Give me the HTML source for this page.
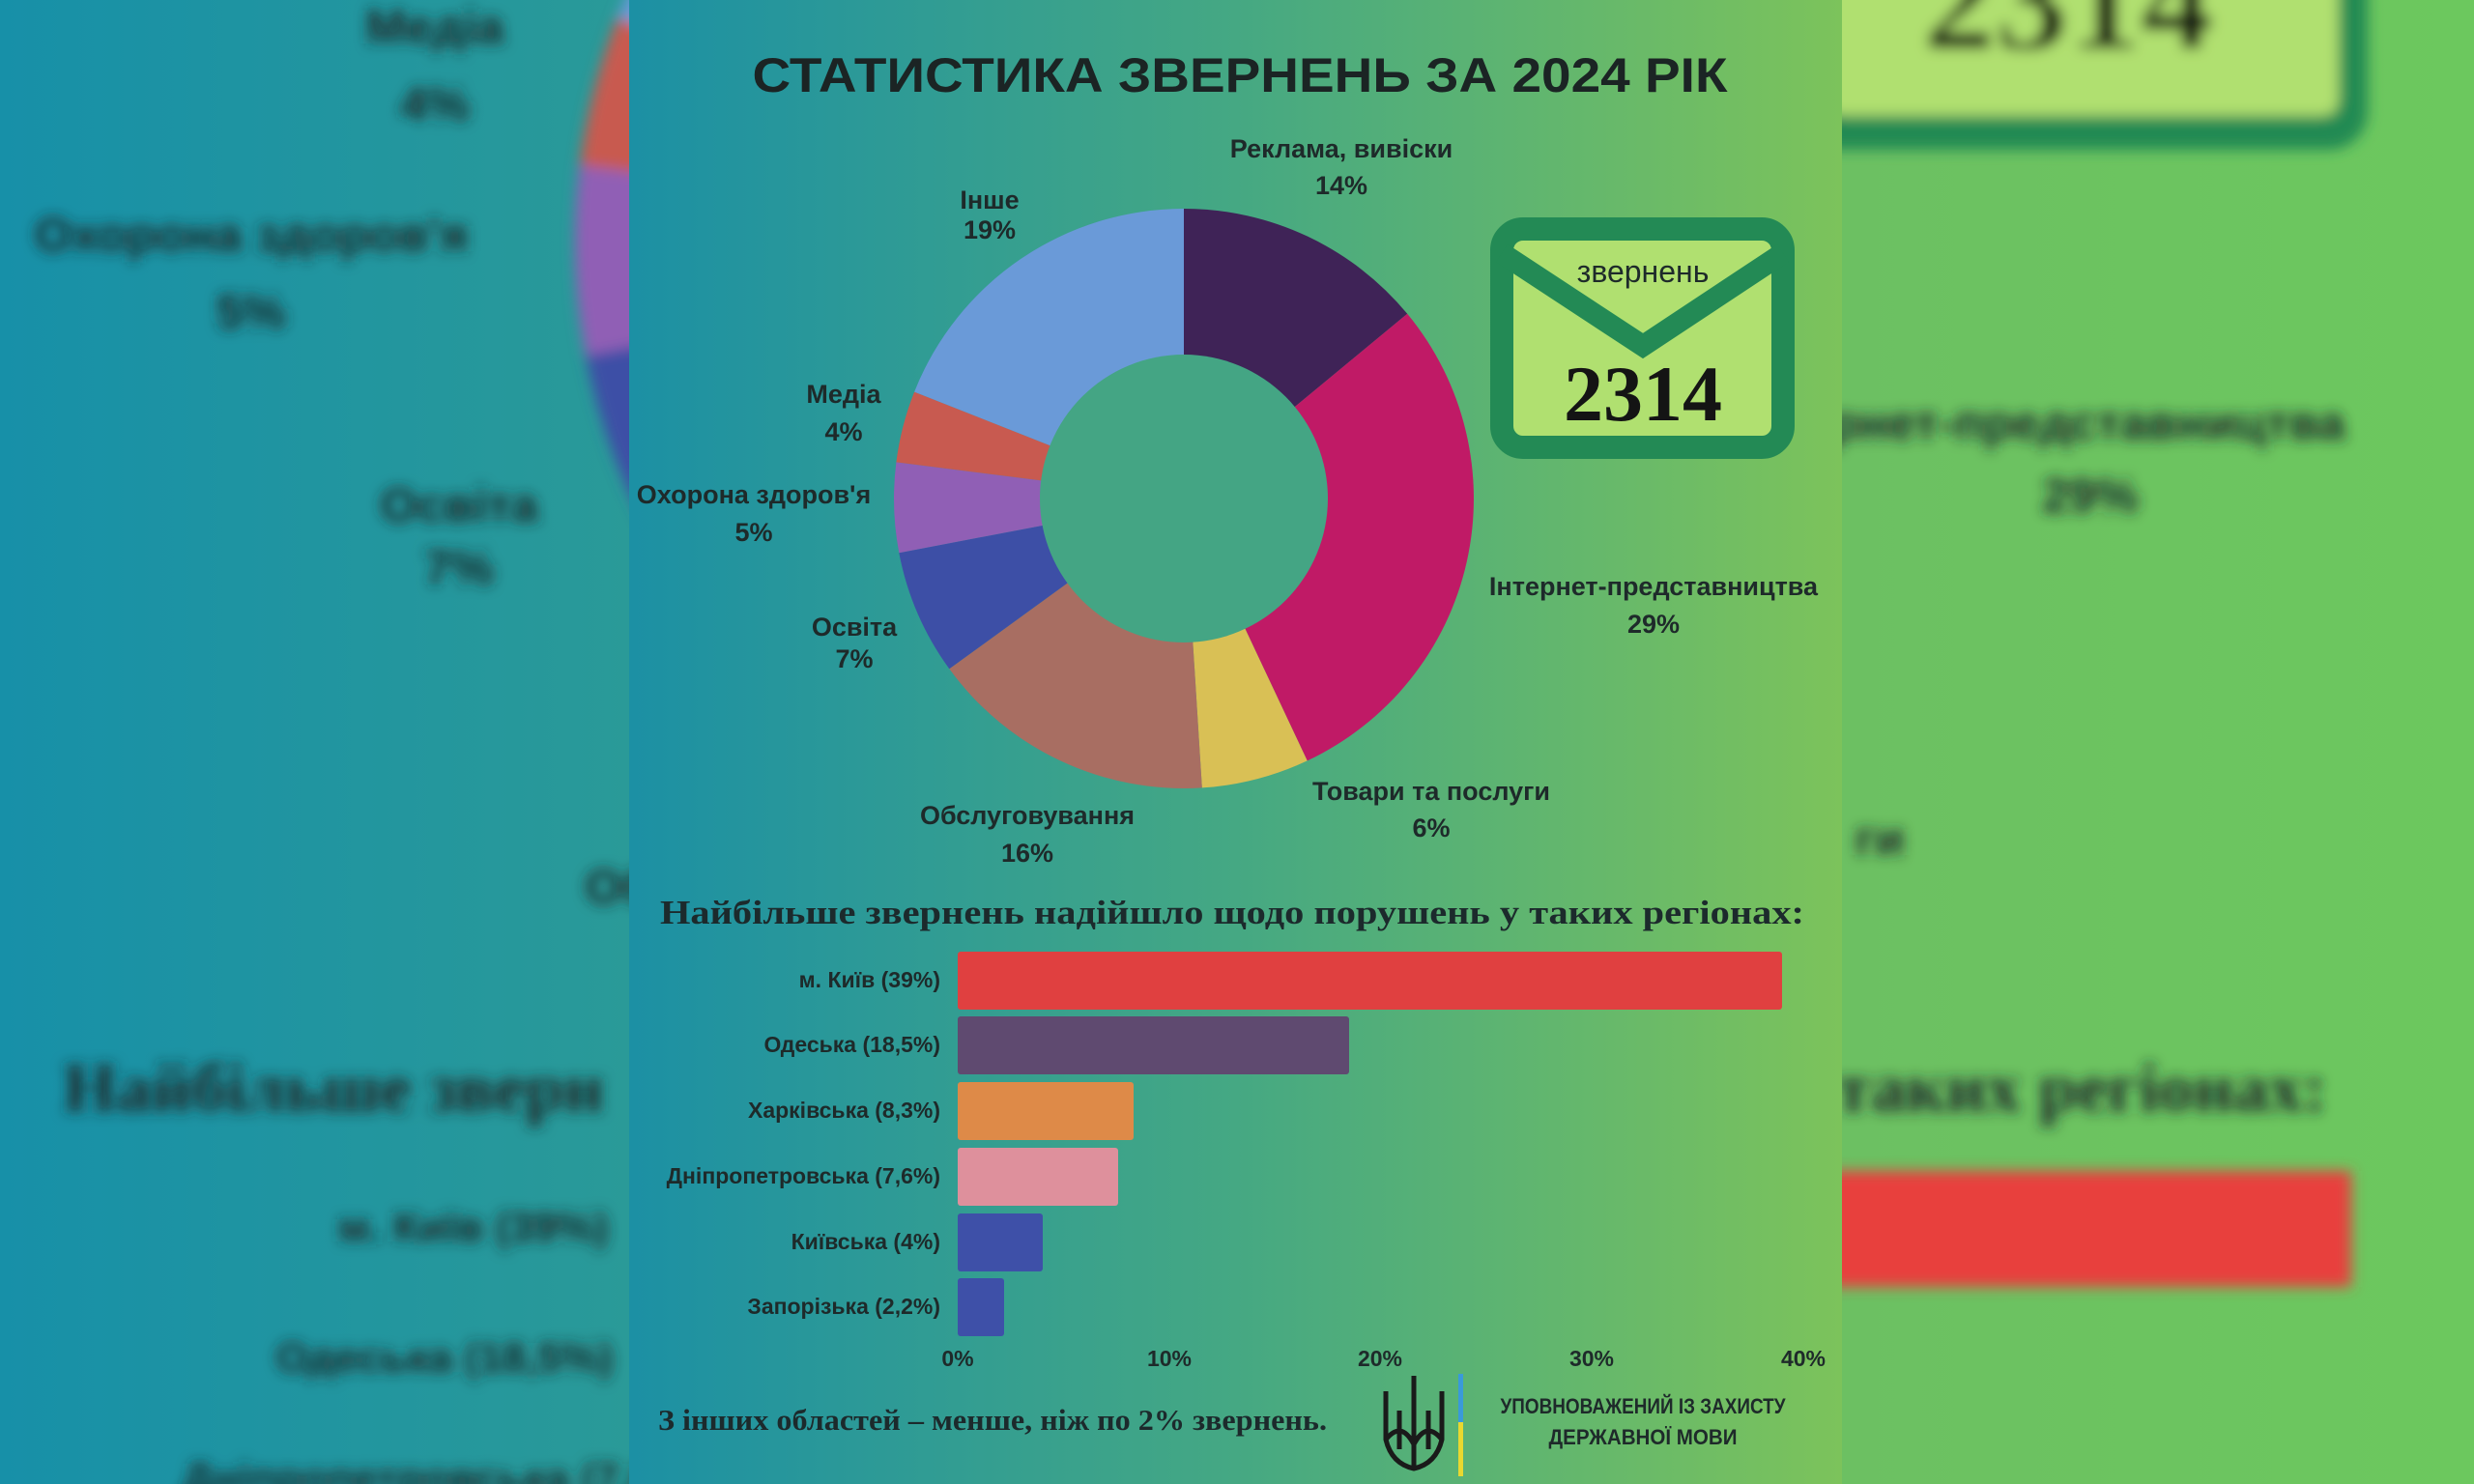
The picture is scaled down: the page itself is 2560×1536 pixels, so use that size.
<!DOCTYPE html>
<html><head><meta charset="utf-8"><style>
html,body{margin:0;padding:0;width:2560px;height:1536px;overflow:hidden;background:#3a9e8a}
svg{display:block}
.s{font-family:"Liberation Sans","DejaVu Sans",sans-serif}
.f{font-family:"Liberation Serif","DejaVu Serif",serif}
</style></head><body>
<svg width="2560" height="1536" viewBox="0 0 2560 1536" xmlns="http://www.w3.org/2000/svg">
<defs>
<linearGradient id="bgL" x1="0" x2="1" y1="0" y2="0"><stop offset="0" stop-color="#1790a8"/><stop offset="1" stop-color="#2a9a98"/></linearGradient>
<linearGradient id="bgR" x1="0" x2="1" y1="0" y2="0"><stop offset="0" stop-color="#6cc062"/><stop offset="1" stop-color="#6cc85e"/></linearGradient>
<linearGradient id="pan" x1="0" x2="1" y1="0" y2="0"><stop offset="0" stop-color="#1c90a4"/><stop offset="0.5" stop-color="#45a883"/><stop offset="1" stop-color="#7cc35b"/></linearGradient>
<filter id="bl" x="-20%" y="-20%" width="140%" height="140%"><feGaussianBlur stdDeviation="7"/></filter>
<g id="donut">
 <path d="M0,0 L0,-300 A300,300 0 0 1 231.2,-191.2 Z" fill="#3f2357"/>
 <path d="M0,0 L231.2,-191.2 A300,300 0 0 1 127.7,271.4 Z" fill="#c01a66"/>
 <path d="M0,0 L127.7,271.4 A300,300 0 0 1 18.8,299.4 Z" fill="#d9c055"/>
 <path d="M0,0 L18.8,299.4 A300,300 0 0 1 -242.7,176.3 Z" fill="#a86e62"/>
 <path d="M0,0 L-242.7,176.3 A300,300 0 0 1 -294.7,56.2 Z" fill="#3d4fa6"/>
 <path d="M0,0 L-294.7,56.2 A300,300 0 0 1 -297.6,-37.6 Z" fill="#905fb5"/>
 <path d="M0,0 L-297.6,-37.6 A300,300 0 0 1 -278.9,-110.4 Z" fill="#c85a50"/>
 <path d="M0,0 L-278.9,-110.4 A300,300 0 0 1 0,-300 Z" fill="#6a9ad8"/>
 <circle r="149" fill="#44a584"/>
</g>
</defs>
<rect x="0" y="0" width="660" height="1536" fill="url(#bgL)"/>
<rect x="1900" y="0" width="660" height="1536" fill="url(#bgR)"/>
<g filter="url(#bl)" class="s">
 <use href="#donut" transform="translate(1225,250) scale(2.1)"/>
 <g font-weight="bold" fill="#1e2b2c" font-size="50" text-anchor="middle">
  <text x="450" y="45">Медіа</text><text x="450" y="125">4%</text>
  <text x="260" y="260">Охорона здоров'я</text><text x="260" y="340">5%</text>
  <text x="475" y="540">Освіта</text><text x="475" y="605">7%</text>
  <text x="640" y="935">Об</text>
  <text x="490" y="1285" font-size="44">м. Київ (39%)</text>
  <text x="460" y="1420" font-size="44">Одеська (18,5%)</text>
  <text x="460" y="1545" font-size="44">Дніпропетровська (7,6%)</text>
 </g>
 <text x="65" y="1150" class="f" font-weight="bold" font-size="72" fill="#1e2b2c">Найбільше зверн</text>
 <rect x="1860" y="-60" width="590" height="215" rx="40" fill="#228a52"/>
 <rect x="1890" y="-60" width="530" height="180" rx="16" fill="#b0e070"/>
 <text x="2140" y="50" class="f" font-weight="bold" font-size="150" fill="#111" text-anchor="middle">2314</text>
 <g font-weight="bold" fill="#1e2b2c" font-size="50" text-anchor="middle">
  <text x="2160" y="455">рнет-представництва</text><text x="2163" y="530">29%</text>
  <text x="1945" y="885">ги</text>
 </g>
 <text x="1900" y="1150" class="f" font-weight="bold" font-size="72" fill="#1e2b2c">таких регіонах:</text>
 <rect x="1880" y="1212" width="553" height="120" fill="#e8403d"/>
</g>
<rect x="651" y="0" width="1255" height="1536" fill="url(#pan)"/>
<text class="s" x="1283" y="95" font-weight="bold" font-size="50" fill="#1b2424" text-anchor="middle" textLength="1009" lengthAdjust="spacingAndGlyphs">СТАТИСТИКА ЗВЕРНЕНЬ ЗА 2024 РІК</text>
<use href="#donut" transform="translate(1225,516)"/>
<g class="s" font-weight="bold" fill="#1e2a2a" font-size="27" text-anchor="middle">
 <text x="1388" y="163">Реклама, вивіски</text><text x="1388" y="201">14%</text>
 <text x="1024" y="216">Інше</text><text x="1024" y="247">19%</text>
 <text x="873" y="417">Медіа</text><text x="873" y="456">4%</text>
 <text x="780" y="521">Охорона здоров'я</text><text x="780" y="560">5%</text>
 <text x="884" y="658">Освіта</text><text x="884" y="691">7%</text>
 <text x="1063" y="853">Обслуговування</text><text x="1063" y="892">16%</text>
 <text x="1481" y="828">Товари та послуги</text><text x="1481" y="866">6%</text>
 <text x="1711" y="616">Інтернет-представництва</text><text x="1711" y="655">29%</text>
</g>
<rect x="1554" y="237" width="291" height="226" rx="22" fill="#b0e070" stroke="#238a55" stroke-width="24"/>
<path d="M1554,262 L1700,358 L1845,262" fill="none" stroke="#238a55" stroke-width="22"/>
<text class="s" x="1700" y="292" font-size="32" fill="#1e2a2a" text-anchor="middle">звернень</text>
<text class="f" x="1700" y="435" font-weight="bold" font-size="82" fill="#141414" text-anchor="middle">2314</text>
<text class="f" x="1275" y="956" font-weight="bold" font-size="35" fill="#1c2a2c" text-anchor="middle" textLength="1184" lengthAdjust="spacingAndGlyphs">Найбільше звернень надійшло щодо порушень  у таких регіонах:</text>
<g>
 <rect x="991" y="985" width="853" height="60" rx="3" fill="#e04040"/>
 <rect x="991" y="1052" width="405" height="60" rx="3" fill="#5f4a70"/>
 <rect x="991" y="1120" width="182" height="60" rx="3" fill="#de8a48"/>
 <rect x="991" y="1188" width="166" height="60" rx="3" fill="#de909c"/>
 <rect x="991" y="1256" width="88" height="60" rx="3" fill="#3e50a8"/>
 <rect x="991" y="1323" width="48" height="60" rx="3" fill="#3e50a8"/>
</g>
<g class="s" font-weight="bold" fill="#1e2a2a" font-size="23" text-anchor="end">
 <text x="973" y="1022">м. Київ (39%)</text>
 <text x="973" y="1089">Одеська (18,5%)</text>
 <text x="973" y="1157">Харківська (8,3%)</text>
 <text x="973" y="1225">Дніпропетровська (7,6%)</text>
 <text x="973" y="1293">Київська (4%)</text>
 <text x="973" y="1360">Запорізька (2,2%)</text>
</g>
<g class="s" font-weight="bold" fill="#1e2a2a" font-size="23" text-anchor="middle">
 <text x="991" y="1414">0%</text><text x="1210" y="1414">10%</text><text x="1428" y="1414">20%</text><text x="1647" y="1414">30%</text><text x="1866" y="1414">40%</text>
</g>
<text class="f" x="681" y="1480" font-weight="bold" font-size="31" fill="#1c2a2c" textLength="692" lengthAdjust="spacingAndGlyphs">З інших областей – менше, ніж по 2% звернень.</text>
<g fill="none" stroke="#1a1a1a" stroke-width="5">
 <path d="M1463,1424 L1463,1520"/>
 <path d="M1434,1440 L1434,1490 Q1440,1515 1463,1520 Q1486,1515 1492,1490 L1492,1440"/>
 <path d="M1434,1490 Q1450,1470 1463,1495 Q1476,1470 1492,1490"/>
 <path d="M1448,1460 L1448,1500 M1478,1460 L1478,1500"/>
</g>
<rect x="1509" y="1422" width="5" height="50" fill="#3a9ad9"/>
<rect x="1509" y="1472" width="5" height="56" fill="#e8d830"/>
<g class="s" font-weight="bold" fill="#1e2a2a" font-size="22" text-anchor="middle">
 <text x="1700" y="1463" textLength="295" lengthAdjust="spacingAndGlyphs">УПОВНОВАЖЕНИЙ ІЗ ЗАХИСТУ</text>
 <text x="1700" y="1495" textLength="195" lengthAdjust="spacingAndGlyphs">ДЕРЖАВНОЇ МОВИ</text>
</g>
</svg>
</body></html>
